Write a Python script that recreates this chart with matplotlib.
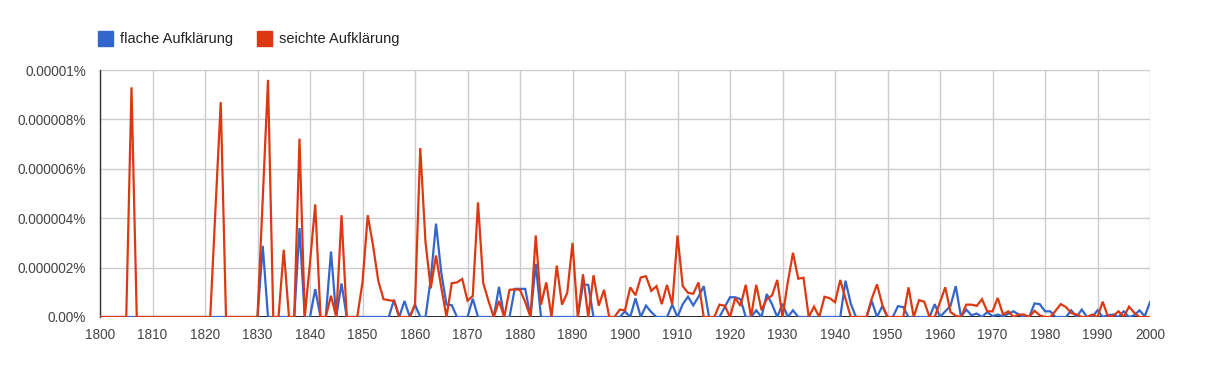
import matplotlib
matplotlib.use('Agg')
import matplotlib.pyplot as plt
from matplotlib.patches import Rectangle

# values in units of 0.000001 %
years = list(range(1800, 2001))

flache = [
    0, 0, 0, 0, 0, 0, 0, 0, 0, 0,                       # 1800
    0, 0, 0, 0, 0, 0, 0, 0, 0, 0,                       # 1810
    0, 0, 0, 0, 0, 0, 0, 0, 0, 0,                       # 1820
    0, 2.88, 0, 0, 0, 0, 0, 0, 3.6, 0,                  # 1830
    0, 1.13, 0, 0, 2.65, 0, 1.36, 0, 0, 0,              # 1840
    0, 0, 0, 0, 0, 0, 0.7, 0, 0.65, 0,                  # 1850
    0.5, 0, 0, 1.54, 3.78, 1.8, 0.5, 0.48, 0, 0,        # 1860
    0, 0.74, 0, 0, 0, 0, 1.22, 0, 0, 1.14,              # 1870
    1.14, 1.14, 0, 2.15, 0, 0, 0, 0, 0, 0,              # 1880
    0, 0, 1.32, 1.3, 0, 0, 0, 0, 0, 0,                  # 1890
    0.23, 0, 0.76, 0, 0.46, 0.2, 0, 0, 0, 0.5,          # 1900
    0, 0.52, 0.82, 0.47, 0.82, 1.25, 0, 0, 0, 0.4,      # 1910
    0.8, 0.8, 0.72, 0, 0, 0.27, 0, 0.93, 0.52, 0,       # 1920
    0.54, 0, 0.27, 0, 0, 0, 0, 0, 0, 0,                 # 1930
    0, 0, 1.47, 0.54, 0, 0, 0, 0.65, 0, 0.44,           # 1940
    0, 0, 0.44, 0.4, 0, 0, 0, 0, 0, 0.52,               # 1950
    0, 0.23, 0.45, 1.25, 0, 0.3, 0.07, 0.14, 0, 0.2,    # 1960
    0.03, 0.1, 0.02, 0.13, 0.23, 0.1, 0, 0, 0.55, 0.52, # 1970
    0.23, 0.23, 0, 0, 0, 0.27, 0, 0.3, 0, 0,            # 1980
    0.27, 0, 0.07, 0.1, 0, 0.23, 0, 0.07, 0.27, 0.03,   # 1990
    0.6,                                                # 2000
]

seichte = [
    0, 0, 0, 0, 0, 0, 9.3, 0, 0, 0,                     # 1800
    0, 0, 0, 0, 0, 0, 0, 0, 0, 0,                       # 1810
    0, 0, 4.4, 8.7, 0, 0, 0, 0, 0, 0,                   # 1820
    0, 4.8, 9.6, 0, 0, 2.72, 0, 0, 7.22, 0,             # 1830
    2.2, 4.56, 0, 0, 0.86, 0, 4.12, 0, 0, 0,            # 1840
    1.4, 4.12, 2.9, 1.47, 0.72, 0.68, 0.65, 0, 0, 0,    # 1850
    0.5, 6.84, 3.03, 1.16, 2.49, 1.2, 0, 1.37, 1.4, 1.54,  # 1860
    0.66, 0.85, 4.64, 1.37, 0.65, 0, 0.65, 0, 1.1, 1.12,   # 1870
    1.1, 0.6, 0, 3.3, 0.5, 1.4, 0, 2.08, 0.5, 0.98,        # 1880
    3.0, 0, 1.73, 0, 1.69, 0.46, 1.1, 0, 0, 0.3,           # 1890
    0.27, 1.2, 0.88, 1.6, 1.65, 1.06, 1.25, 0.52, 1.3, 0.5,  # 1900
    3.3, 1.25, 0.98, 0.94, 1.4, 0, 0, 0, 0.5, 0.46,          # 1910
    0, 0.77, 0.45, 1.3, 0, 1.3, 0.28, 0.72, 0.87, 1.5,       # 1920
    0, 1.4, 2.6, 1.55, 1.59, 0, 0.42, 0, 0.82, 0.76,         # 1930
    0.6, 1.5, 0.74, 0, 0, 0, 0, 0.74, 1.32, 0.5,             # 1940
    0, 0, 0, 0, 1.2, 0, 0.68, 0.62, 0, 0,                    # 1950
    0.6, 1.2, 0.2, 0.05, 0, 0.5, 0.5, 0.45, 0.72, 0.23,      # 1960
    0.23, 0.77, 0.1, 0.23, 0, 0.1, 0.1, 0, 0.25, 0.07,       # 1970
    0, 0, 0.25, 0.52, 0.4, 0.16, 0.1, 0, 0, 0.1,             # 1980
    0, 0.62, 0, 0.05, 0.23, 0, 0.42, 0.17, 0, 0,             # 1990
    0,                                                       # 2000
]

xticks = list(range(1800, 2001, 10))
yticks = [0, 2, 4, 6, 8, 10]
ytick_labels = ['0.00%', '0.000002%', '0.000004%', '0.000006%', '0.000008%', '0.00001%']
series_names = ['flache Aufklärung', 'seichte Aufklärung']
colors = ['#3366cc', '#dc3912']

plt.rcParams['font.family'] = ['Liberation Sans', 'DejaVu Sans']

W, H = 1208, 365
fig = plt.figure(figsize=(W / 100, H / 100), dpi=100)
ax = fig.add_axes([100 / W, 48 / H, 1050 / W, 247 / H])

ax.plot(years, flache, color=colors[0], lw=1.6, zorder=3, solid_joinstyle='miter')
ax.plot(years, seichte, color=colors[1], lw=1.6, zorder=4, solid_joinstyle='miter')
ax.axhline(0, color='black', lw=1.2, zorder=2)

ax.set_xlim(1800, 2000)
ax.set_ylim(0, 10)
ax.set_xticks(xticks)
ax.set_yticks(yticks)
ax.set_yticklabels(ytick_labels)
ax.grid(True, color='#cccccc', lw=1)
ax.set_axisbelow(True)
ax.tick_params(length=0, labelsize=9.8, colors='#444444')
ax.tick_params(axis='y', pad=10)
ax.tick_params(axis='x', pad=8)
for s in ['top', 'right', 'bottom']:
    ax.spines[s].set_visible(False)
ax.spines['left'].set_color('#333333')
ax.spines['left'].set_linewidth(1)

# legend
for i, (name, c) in enumerate(zip(series_names, colors)):
    x0 = [98, 257][i]
    fig.add_artist(Rectangle((x0 / W, 1 - 46 / H), 15 / W, 15 / H,
                             transform=fig.transFigure, color=c))
    fig.text((x0 + 22) / W, 1 - 39 / H, name, fontsize=10.5,
             color='#222222', va='center', ha='left')

fig.savefig('out.png', dpi=100)
